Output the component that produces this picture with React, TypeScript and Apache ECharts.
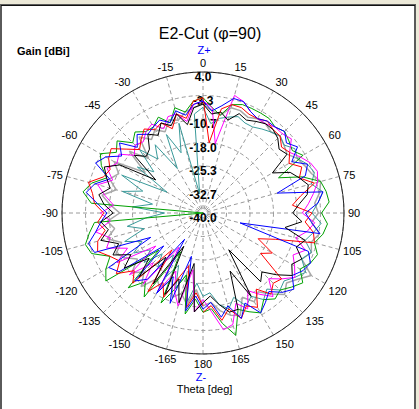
import React, { useEffect, useRef } from "react";
import * as echarts from "echarts";

// Theta angles (deg), -180..180 step 5
const THETA = [
  -180, -175, -170, -165, -160, -155, -150, -145, -140, -135, -130, -125,
  -120, -115, -110, -105, -100, -95, -90, -85, -80, -75, -70, -65,
  -60, -55, -50, -45, -40, -35, -30, -25, -20, -15, -10, -5,
  0, 5, 10, 15, 20, 25, 30, 35, 40, 45, 50, 55,
  60, 65, 70, 75, 80, 85, 90, 95, 100, 105, 110, 115,
  120, 125, 130, 135, 140, 145, 150, 155, 160, 165, 170, 175,
  180,
];

const GRAY = [
  -11, -16, -11, -14, -12, -17, -13, -15, -10, -14, -11, -15,
  -12, -10, -13, -9, -12, -10, -14, -11, -8, -12, -9, -11,
  -8, -18, -10, -16, -9, -12, -10, -12, -9, -10, -8, -7,
  -6, -8, -9, -6, -6, -7, -6, -6, -7, -6, -7, -8,
  -6, -5, -4, -2, -3, -5, -4, -6, -3, -5, -4, -6,
  -1, -4, -6, -4, -7, -10, -8, -11, -6, -7, -9, -12,
  -11,
];
const TEAL = [
  -14, -18, -12, -20, -15, -22, -17, -24, -18, -22, -16, -20,
  -15, -19, -14, -21, -16, -22, -28, -18, -24, -14, -20, -12,
  -27, -15, -20, -12, -18, -14, -24, -13, -20, -11, -34, -9,
  -7, -12, -10, -9, -8, -9, -9, -8, -7, -6, -7, -5,
  -6, -4, -3, -5, -2, -4, -6, -3, -5, -7, -4, -6,
  -3, -5, -7, -6, -9, -7, -10, -8, -12, -9, -11, -15,
  -14,
];
const GREEN = [
  -9, -13, -8, -20, -15, -9, -26, -8, -12, -7, -22, -3,
  -5, -8, -3, -2, -4, -6, -40, -5, -2, -4, -8, -5,
  -3, -7, -5, -9, -7, -9, -9, -7, -10, -6, -8, -5,
  -4, -7, -9, -5, -4, -4, -4, -4, -5, -4, -5, -6,
  -4, -14, -7, -2, -1, -0.5, -3, -1, -2, -4, -2, -3,
  -5, -2, -4, -6, -5, -7, -4, -6, -8, -0.5, -5, -10,
  -9,
];
const MAGENTA = [
  -13, -9, -22, -10, -14, -20, -12, -27, -11, -18, -10, -22,
  -9, -14, -8, -10, -6, -11, -8, -12, -9, -6, -10, -7,
  -9, -8, -12, -10, -11, -9, -8, -11, -8, -8, -11, -6,
  -5, -7, -18, -2, -3, -5, -6, -6, -5, -5, -4, -7,
  -5, -3, -2, -3, -5, -7, -9, -5, -7, -10, -6, -9,
  -7, -5, -8, -11, -6, -9, -12, -7, -10, -4, -3, -9,
  -13,
];
const RED = [
  -11, -15, -10, -23, -19, -11, -15, -10, -25, -9, -12, -7,
  -10, -8, -5, -6, -9, -7, -9, -6, -5, -3, -7, -8,
  -6, -5, -9, -12, -10, -8, -10, -9, -12, -8, -10, -5,
  -4, -18, -7, -5, -5, -6, -6, -5, -6, -6, -8, -7,
  -9, -6, -8, -4, -9, -12, -6, -8, -5, -4, -16, -21,
  -15, -18, -8, -9, -7, -11, -6, -8, -5, -9, -6, -11,
  -9,
];
const BLUE = [
  -10, -14, -9, -26, -10, -18, -11, -30, -13, -10, -24, -8,
  -6, -22, -4, -3, -6, -8, -10, -7, -3, -5, -9, -3,
  -5, -9, -6, -11, -8, -10, -9, -8, -10, -7, -9, -6,
  -5, -8, -6, -3, -3, -5, -6, -5, -5, -4, -6, -4,
  -8, -4, -6, -16, -2, -4, -8, -6, -3, -28, -5, -3,
  -4, -6, -3, -5, -8, -6, -4, -9, -5, -10, -7, -12,
  -10,
];
const BLACK = [
  -12, -9, -24, -11, -18, -12, -28, -13, -22, -12, -18, -10,
  -14, -9, -12, -7, -10, -8, -12, -9, -7, -10, -8, -6,
  -10, -22, -12, -15, -14, -10, -12, -9, -11, -8, -12, -7,
  -6, -9, -8, -10, -7, -8, -7, -6, -6, -7, -9, -8,
  -15, -10, -8, -6, -7, -10, -12, -9, -14, -7, -9, -6,
  -8, -6, -10, -14, -12, -26, -10, -20, -8, -8, -11, -14,
  -12,
];

const GAIN_MIN = -40;
const GAIN_MAX = 4;

const SERIES = [
  { name: "s7", color: "#A8A8A8", values: GRAY, width: 1.5 },
  { name: "s6", color: "#3A9A9A", values: TEAL, width: 1 },
  { name: "s5", color: "#00A000", values: GREEN, width: 1 },
  { name: "s4", color: "#FF00FF", values: MAGENTA, width: 1 },
  { name: "s3", color: "#FF0000", values: RED, width: 1 },
  { name: "s2", color: "#0000FF", values: BLUE, width: 1 },
  { name: "s1", color: "#000000", values: BLACK, width: 1 },
];

const FONT = "Liberation Sans, Arial, sans-serif";

export default function App() {
  const ref = useRef<HTMLDivElement>(null);
  useEffect(() => {
    if (!ref.current) return;
    const chart = echarts.init(ref.current, undefined, { renderer: "svg" });
    const span = GAIN_MAX - GAIN_MIN;
    const option: any = {
      animation: false,
      backgroundColor: "#ECE9D8",
      title: {
        text: "E2-Cut (φ=90)",
        left: 205,
        top: 20,
        textAlign: "center",
        textStyle: { fontFamily: FONT, fontSize: 16, fontWeight: "normal", color: "#000" },
      },
      graphic: [
        {
          type: "rect",
          z: -10,
          shape: { x: 1, y: 5, width: 414, height: 410 },
          style: { fill: "#FFFFFF", stroke: "#5A5A5A", lineWidth: 2 },
        },
        {
          type: "line",
          z: -9,
          shape: { x1: 1, y1: 5.5, x2: 415, y2: 5.5 },
          style: { stroke: "#111", lineWidth: 1 },
        },
        {
          type: "text",
          x: 17,
          y: 51,
          style: { text: "Gain [dBi]", font: `bold 11px ${FONT}`, fill: "#000", textVerticalAlign: "middle" },
        },
        {
          type: "text",
          x: 204,
          y: 50,
          style: { text: "Z+", font: `11px ${FONT}`, fill: "#0000FF", textAlign: "center", textVerticalAlign: "middle" },
        },
        {
          type: "text",
          x: 201,
          y: 377,
          style: { text: "Z-", font: `11px ${FONT}`, fill: "#0000FF", textAlign: "center", textVerticalAlign: "middle" },
        },
        {
          type: "text",
          x: 204.5,
          y: 389,
          style: { text: "Theta [deg]", font: `11px ${FONT}`, fill: "#000", textAlign: "center", textVerticalAlign: "middle" },
        },
      ],
      polar: { center: [203, 213], radius: 141 },
      angleAxis: {
        type: "value",
        min: 0,
        max: 360,
        interval: 15,
        startAngle: 90,
        clockwise: true,
        axisLine: { show: true, lineStyle: { color: "#222", width: 1 } },
        axisTick: { show: false },
        axisLabel: {
          margin: 4,
          fontFamily: FONT,
          fontSize: 11,
          color: "#000",
          formatter: (v: number) => {
            if (v >= 360) return "";
            return String(v > 180 ? v - 360 : v);
          },
        },
        splitLine: { show: true, lineStyle: { color: "#9A9A9A", type: [4, 3], width: 1 } },
      },
      radiusAxis: {
        type: "value",
        min: 0,
        max: span,
        interval: span / 6,
        axisLine: { show: false },
        axisTick: { show: false },
        axisLabel: {
          margin: 0,
          align: "center",
          verticalAlign: "top",
          padding: [-1, 0, 0, 0],
          fontFamily: FONT,
          fontSize: 12,
          fontWeight: "bold",
          color: "#000",
          formatter: (v: number) => (v + GAIN_MIN).toFixed(1),
        },
        splitLine: { show: true, lineStyle: { color: "#9A9A9A", type: [4, 3], width: 1 } },
      },
      series: SERIES.map((s) => ({
        name: s.name,
        type: "line",
        coordinateSystem: "polar",
        symbol: "none",
        clip: false,
        lineStyle: { color: s.color, width: s.width },
        data: THETA.map((t, i) => [
          Math.max(0, s.values[i] - GAIN_MIN),
          t < 0 ? t + 360 : t,
        ]),
      })),
    };
    chart.setOption(option);
    return () => chart.dispose();
  }, []);
  return (
    <div
      ref={ref}
      style={{ position: "absolute", left: 0, top: 0, width: 419, height: 409 }}
    />
  );
}
